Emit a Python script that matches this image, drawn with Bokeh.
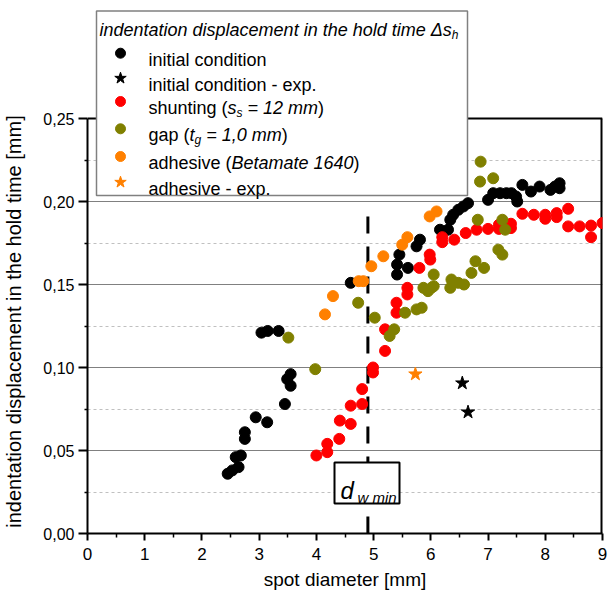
from bokeh.plotting import figure
from bokeh.models import FixedTicker, Label, BoxAnnotation, Range1d, CustomJSTickFormatter
from bokeh.embed import file_html
from bokeh.resources import INLINE

# ---------------- data ----------------
init_x = [2.45, 2.53, 2.59, 2.64, 2.68, 2.75, 2.75, 2.94, 3.04, 3.14, 3.15, 3.34, 3.45, 3.49,
          3.55, 3.55, 4.60, 5.41, 5.41, 5.45, 5.60, 5.75, 5.81, 6.16, 6.30, 6.34, 6.39, 6.48,
          6.57, 6.65, 7.00, 7.09, 7.21, 7.32, 7.41, 7.49, 7.51, 7.60, 7.75, 7.90, 8.09, 8.17,
          8.25, 8.25]
init_y = [0.036, 0.038, 0.046, 0.040, 0.047, 0.057, 0.061, 0.070, 0.121, 0.067, 0.122, 0.122,
          0.078, 0.093, 0.096, 0.089, 0.151, 0.162, 0.156, 0.168, 0.160, 0.173, 0.177, 0.183,
          0.183, 0.189, 0.192, 0.195, 0.197, 0.199, 0.201, 0.205, 0.205, 0.205, 0.205, 0.203,
          0.200, 0.210, 0.206, 0.209, 0.207, 0.209, 0.211, 0.208]

init_exp_x = [6.55, 6.65]
init_exp_y = [0.0906, 0.0731]

shunt_x = [4.00, 4.19, 4.19, 4.40, 4.41, 4.60, 4.60, 4.80, 4.80, 4.99, 4.99, 5.20, 5.20, 5.40,
           5.40, 5.59, 5.59, 5.80, 5.98, 5.99, 6.20, 6.20, 6.41, 6.61, 6.80, 7.00, 7.19, 7.19,
           7.40, 7.40, 7.60, 7.80, 8.00, 8.00, 8.20, 8.20, 8.40, 8.40, 8.60, 8.80, 8.80, 9.00]
shunt_y = [0.047, 0.049, 0.054, 0.057, 0.068, 0.066, 0.077, 0.078, 0.087, 0.097, 0.100, 0.110,
           0.123, 0.133, 0.139, 0.144, 0.148, 0.160, 0.168, 0.165, 0.1785, 0.1755, 0.177, 0.181,
           0.183, 0.1835, 0.186, 0.1835, 0.1866, 0.184, 0.1926, 0.192, 0.192, 0.1896, 0.193,
           0.1906, 0.1956, 0.185, 0.185, 0.1855, 0.1785, 0.187]

gap_x = [3.51, 3.98, 4.73, 5.02, 5.28, 5.36, 5.55, 5.75, 5.84, 5.87, 5.95, 6.01, 6.05, 6.05,
         6.34, 6.36, 6.48, 6.58, 6.71, 6.78, 6.82, 6.86, 6.87, 6.93, 7.09, 7.18, 7.25, 7.25, 7.30]
gap_y = [0.118, 0.099, 0.139, 0.130, 0.119, 0.123, 0.133, 0.135, 0.136, 0.148, 0.146, 0.148,
         0.156, 0.149, 0.148, 0.153, 0.151, 0.150, 0.157, 0.164, 0.189, 0.212, 0.224, 0.160,
         0.214, 0.171, 0.168, 0.189, 0.183]

adh_x = [4.15, 4.29, 4.74, 4.82, 4.96, 5.17, 5.50, 5.59, 5.98, 6.10]
adh_y = [0.132, 0.143, 0.152, 0.152, 0.161, 0.167, 0.174, 0.1785, 0.191, 0.194]

adh_exp_x = [5.73]
adh_exp_y = [0.096]

d_w_min = 4.9
d_w_min_top = 0.196

x_ticks = [0, 1, 2, 3, 4, 5, 6, 7, 8, 9]
x_minor = [0.5, 1.5, 2.5, 3.5, 4.5, 5.5, 6.5, 7.5, 8.5]
y_ticks = [0.0, 0.05, 0.10, 0.15, 0.20, 0.25]
y_minor = [0.025, 0.075, 0.125, 0.175, 0.225]
y_grid = [0.05, 0.10, 0.15, 0.20]

Y_LABEL = "indentation displacement in the hold time [mm]"
X_LABEL = "spot diameter [mm]"

BLACK, RED, OLIVE, ORANGE = "#000000", "#ff0000", "#808000", "#ff8000"
FONT = "Liberation Sans"

# ---------------- layout ----------------
BL, BR, BT, BB = 86, 8, 9, 63
FW, FH = 515, 524              # frame: x 0..9 ; y 0..YTOP (room above the axes for the legend)
PX_PER_Y = 415 / 0.25          # axes box height 415 px for 0..0.25
YTOP = FH / PX_PER_Y
FL_PAGE, FT_PAGE = BL, BT


def px2x(px):
    return (px - FL_PAGE) / FW * 9


def py2y(py):
    return (FT_PAGE + FH - py) / PX_PER_Y


p = figure(frame_width=FW, frame_height=FH, x_range=Range1d(0, 9), y_range=Range1d(0, YTOP),
           output_backend="svg", toolbar_location=None,
           min_border_left=BL, min_border_right=BR, min_border_top=BT, min_border_bottom=BB)
p.background_fill_color = "white"
p.border_fill_color = "white"
p.outline_line_color = None

# axes
p.xaxis.ticker = FixedTicker(ticks=x_ticks, minor_ticks=x_minor)
p.yaxis.ticker = FixedTicker(ticks=y_ticks, minor_ticks=y_minor)
p.yaxis.bounds = (y_ticks[0], y_ticks[-1])
p.yaxis.formatter = CustomJSTickFormatter(code="return tick.toFixed(2).replace('.', ',');")
for ax in (p.xaxis[0], p.yaxis[0]):
    ax.axis_line_color = "black"
    ax.axis_line_width = 2
    ax.major_tick_line_color = "black"
    ax.major_tick_line_width = 2
    ax.minor_tick_line_color = "black"
    ax.minor_tick_line_width = 1.5
    ax.major_tick_in = 0
    ax.minor_tick_in = 0
    ax.major_label_text_font = FONT
    ax.major_label_text_color = "black"
    ax.axis_label_text_font = FONT
    ax.axis_label_text_font_style = "normal"
    ax.axis_label_text_color = "black"

p.xaxis.major_tick_out = 7
p.xaxis.minor_tick_out = 4
p.xaxis.major_label_text_font_size = "17px"
p.xaxis.major_label_standoff = 7
p.xaxis.axis_label = X_LABEL
p.xaxis.axis_label_text_font_size = "19px"
p.xaxis.axis_label_standoff = 6

p.yaxis.major_tick_out = 9
p.yaxis.minor_tick_out = 3
p.yaxis.major_label_text_font_size = "16px"
p.yaxis.major_label_standoff = 4
p.yaxis.axis_label_text_font_size = "20px"
p.yaxis.axis_label_standoff = 15
# The frame is taller than the axes box (room for the legend on top) and the
# label is centred on the frame: pad its far end with no-break spaces so the
# visible text sits along the 0..0.25 axis, as in the original.
p.yaxis.axis_label = Y_LABEL + "\u00a0" * 18

# grid
p.xgrid.visible = False
p.ygrid.ticker = FixedTicker(ticks=y_grid, minor_ticks=y_minor)
p.ygrid.grid_line_color = "#808080"
p.ygrid.grid_line_width = 1
p.ygrid.minor_grid_line_color = "#c0c0c0"
p.ygrid.minor_grid_line_dash = "3 3"
p.ygrid.minor_grid_line_width = 1

# top and right edges of the axes box
p.segment(x0=[x_ticks[0]], y0=[y_ticks[-1]], x1=[x_ticks[-1]], y1=[y_ticks[-1]],
          line_color="black", line_width=2)
p.segment(x0=[x_ticks[-1]], y0=[y_ticks[0]], x1=[x_ticks[-1]], y1=[y_ticks[-1]],
          line_color="black", line_width=4)

# minimum weld spot diameter line
p.segment(x0=[d_w_min], y0=[0], x1=[d_w_min], y1=[d_w_min_top], line_color="black",
          line_width=3, line_dash="17 13")

# data
MS = 11
p.scatter(init_x, init_y, marker="circle", size=MS, color=BLACK)
p.scatter(shunt_x, shunt_y, marker="circle", size=MS, color=RED)
p.scatter(gap_x, gap_y, marker="circle", size=MS, color=OLIVE)
p.scatter(adh_x, adh_y, marker="circle", size=MS, color=ORANGE)
p.scatter(init_exp_x, init_exp_y, marker="star", size=14, color=BLACK)
p.scatter(adh_exp_x, adh_exp_y, marker="star", size=14, color=ORANGE)

# d_w min box
p.add_layout(BoxAnnotation(left=px2x(333), right=px2x(398), top=py2y(462), bottom=py2y(503),
                           fill_color="white", fill_alpha=1.0, line_color="black",
                           line_width=2, line_alpha=1.0))
p.add_layout(Label(x=px2x(339), y=py2y(490), text="d", text_font=FONT,
                   text_font_style="italic", text_font_size="24px", text_color="black",
                   text_baseline="alphabetic", text_align="left"))
p.add_layout(Label(x=px2x(356), y=py2y(497), text="w min", text_font=FONT,
                   text_font_style="italic", text_font_size="15px", text_color="black",
                   text_baseline="alphabetic", text_align="left"))

# ---------------- legend (drawn manually for rich text) ----------------
p.add_layout(BoxAnnotation(left=px2x(95), right=px2x(466), top=py2y(10.5), bottom=py2y(195),
                           fill_color="white", fill_alpha=1.0, line_color="#808080",
                           line_width=1.5, line_alpha=1.0, level="annotation"))

AW = {' ': 278, '(': 333, ')': 333, ',': 278, '-': 333, '.': 278, '=': 584,
      'a': 556, 'b': 556, 'c': 500, 'd': 556, 'e': 556, 'g': 556, 'h': 556, 'i': 222,
      'l': 222, 'm': 833, 'n': 556, 'o': 556, 'p': 556, 's': 500, 't': 278, 'u': 556,
      'v': 500, 'w': 722, 'x': 500, 'B': 667, '\u0394': 668}


def tw(s, size):
    return sum(AW.get(c, 556) for c in s) * size / 1000.0


def rich(pieces, px, py, size=18, sub=12):
    """pieces: (text, italic, subscript)"""
    x = px
    for text, ital, is_sub in pieces:
        fs = sub if is_sub else size
        lead = len(text) - len(text.lstrip(" "))
        x += tw(" " * lead, fs)
        text = text.lstrip(" ")
        p.add_layout(Label(x=px2x(x), y=py2y(py + (4.5 if is_sub else 0)), text=text,
                           text_font=FONT, text_font_style="italic" if ital else "normal",
                           text_font_size=f"{fs}px", text_color="black",
                           text_baseline="alphabetic", text_align="left", level="overlay"))
        x += tw(text, fs)


rich([("indentation displacement in the hold time \u0394s", True, False), ("h", True, True)],
     98, 29.5)

rows_mark = [52.7, 77.7, 101, 128.3, 156, 181.7]
rows_base = [59.3, 84.3, 107.6, 134.9, 162.6, 188.3]
leg_x = [px2x(119)] * 6
leg_y = [py2y(v) for v in rows_mark]
p.scatter(leg_x[0:1], leg_y[0:1], marker="circle", size=10, color=BLACK, level="overlay")
p.scatter(leg_x[1:2], leg_y[1:2], marker="star", size=12, color=BLACK, level="overlay")
p.scatter(leg_x[2:3], leg_y[2:3], marker="circle", size=10, color=RED, level="overlay")
p.scatter(leg_x[3:4], leg_y[3:4], marker="circle", size=10, color=OLIVE, level="overlay")
p.scatter(leg_x[4:5], leg_y[4:5], marker="circle", size=10, color=ORANGE, level="overlay")
p.scatter(leg_x[5:6], leg_y[5:6], marker="star", size=12, color=ORANGE, level="overlay")

LX = 147
rich([("initial condition", False, False)], LX, rows_base[0])
rich([("initial condition - exp.", False, False)], LX, rows_base[1])
rich([("shunting (", False, False), ("s", True, False), ("s", True, True),
      (" = 12 mm", True, False), (")", False, False)], LX, rows_base[2])
rich([("gap (", False, False), ("t", True, False), ("g", True, True),
      (" = 1,0 mm", True, False), (")", False, False)], LX, rows_base[3])
rich([("adhesive (", False, False), ("Betamate 1640", True, False), (")", False, False)],
     LX, rows_base[4])
rich([("adhesive - exp.", False, False)], LX, rows_base[5])

open("out.html", "w").write(file_html(p, INLINE))
